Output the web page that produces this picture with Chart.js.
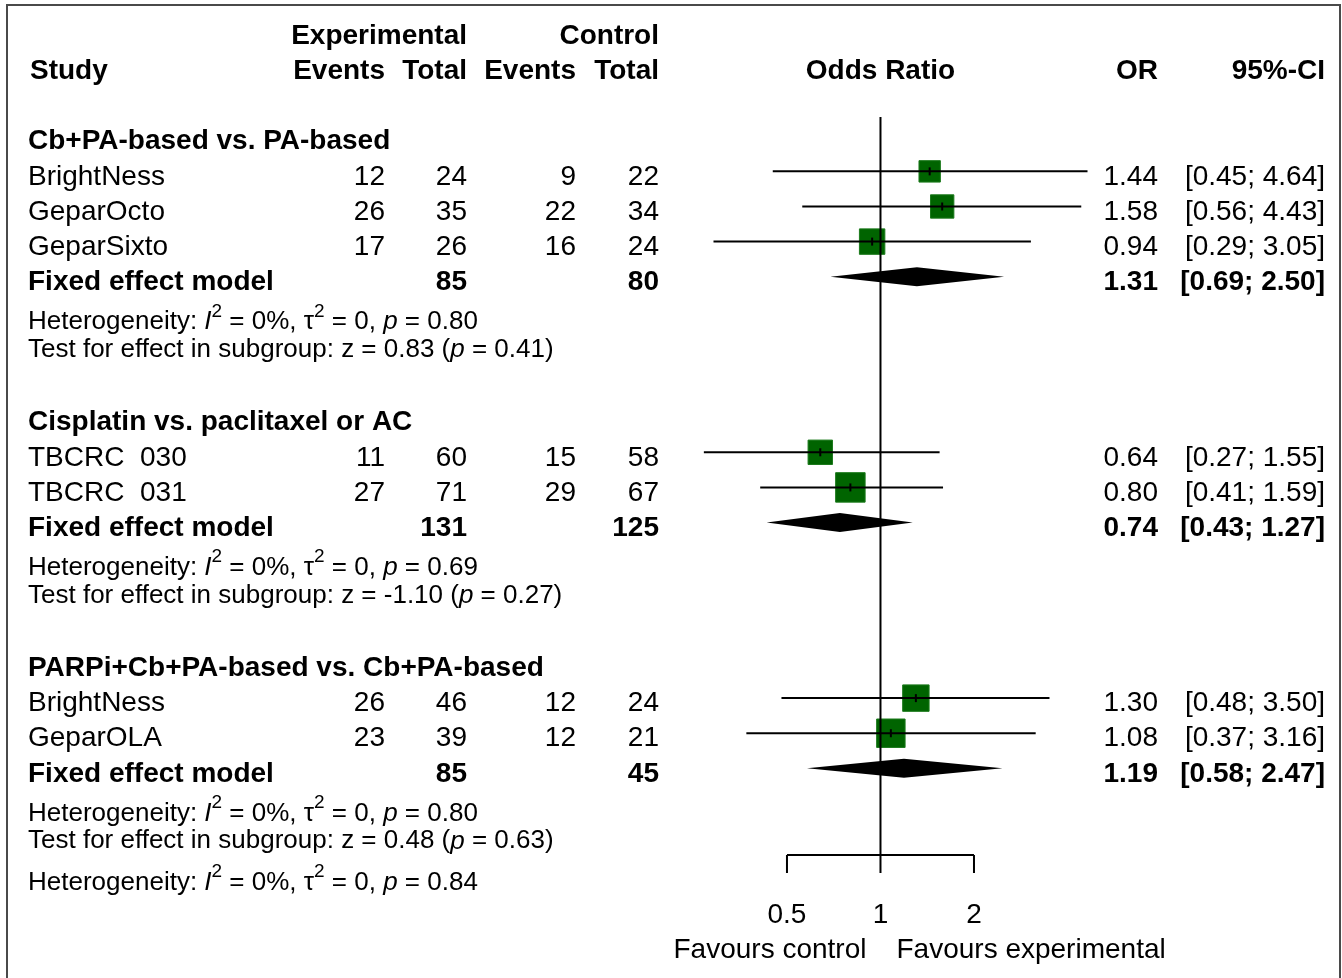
<!DOCTYPE html>
<html>
<head>
<meta charset="utf-8">
<style>
  html, body { margin: 0; padding: 0; background: #fff; }
  canvas { display: block; }
</style>
</head>
<body>
<canvas id="forest" width="1342" height="978"></canvas>
<script src="https://cdn.jsdelivr.net/npm/chart.js@4.4.1/dist/chart.umd.min.js"></script>
<script>
// study level data
const studies = ["BrightNess", "GeparOcto", "GeparSixto", "TBCRC  030", "TBCRC  031", "BrightNess", "GeparOLA"];
const studyGroup = [0, 0, 0, 1, 1, 2, 2];
const expEvents = [12, 26, 17, 11, 27, 26, 23];
const expTotal = [24, 35, 26, 60, 71, 46, 39];
const ctrlEvents = [9, 22, 16, 15, 29, 12, 12];
const ctrlTotal = [22, 34, 24, 58, 67, 24, 21];
const oddsRatio = [1.44, 1.58, 0.94, 0.64, 0.80, 1.30, 1.08];
const ciLower = [0.45, 0.56, 0.29, 0.27, 0.41, 0.48, 0.37];
const ciUpper = [4.64, 4.43, 3.05, 1.55, 1.59, 3.50, 3.16];
const weights = [9.9, 11.8, 14.0, 12.9, 18.8, 15.1, 17.5]; // % weight, square area

// subgroup data
const groupNames = ["Cb+PA-based vs. PA-based", "Cisplatin vs. paclitaxel or AC", "PARPi+Cb+PA-based vs. Cb+PA-based"];
const groupExpTotal = [85, 131, 85];
const groupCtrlTotal = [80, 125, 45];
const groupOR = [1.31, 0.74, 1.19];
const groupLower = [0.69, 0.43, 0.58];
const groupUpper = [2.50, 1.27, 2.47];
const groupHetP = ["0.80", "0.69", "0.80"];
const groupZ = ["0.83", "-1.10", "0.48"];
const groupZP = ["0.41", "0.27", "0.63"];
const overallHetP = "0.84";

// x axis ticks
const tickValues = [0.5, 1, 2];
const tickLabels = ["0.5", "1", "2"];

// row layout (in row units, top to bottom)
const studyRows = [3, 4, 5, 11, 12, 18, 19];
const groupRows = [2, 10, 17];
const fixedRows = [6, 13, 20];
const hetRows = [7.14, 14.14, 21.14];
const testRows = [7.92, 14.92, 21.92];
const overallHetRow = 23.1;
const axisRow = 22.47, tickEndRow = 22.98, refTopRow = 1.45;

const FONT = '"Liberation Sans", Arial, sans-serif';
const MAIN = 28;
const SMALL = 26;
const TEXT_DY = 5.5; // text sits a little lower than the marks
const GREEN = "#006400";

const col = { study: 28, expEv: 385, expTot: 467, ctlEv: 576, ctlTot: 659, or: 1158, ci: 1325 };

const fmt = v => v.toFixed(2);

function text(ctx, s, x, y, align, bold, size) {
  ctx.font = (bold ? "bold " : "") + (size || MAIN) + "px " + FONT;
  ctx.textAlign = align;
  ctx.fillText(s, x, y);
}

function runs(ctx, parts, x, y, size) {
  ctx.textAlign = "left";
  parts.forEach(p => {
    const s = p.sup ? Math.round(size * 0.72) : size;
    ctx.font = (p.it ? "italic " : "") + s + "px " + FONT;
    ctx.fillText(p.t, x, p.sup ? y - size * 0.42 : y);
    x += ctx.measureText(p.t).width;
  });
}

function hetParts(p) {
  return [
    { t: "Heterogeneity: " }, { t: "I", it: true }, { t: "2", sup: true },
    { t: " = 0%, τ" }, { t: "2", sup: true }, { t: " = 0, " },
    { t: "p", it: true }, { t: " = " + p }
  ];
}

const forestPlugin = {
  id: "forest",
  beforeDraw(chart) {
    const ctx = chart.ctx;
    ctx.save();
    ctx.fillStyle = "#fff";
    ctx.fillRect(0, 0, chart.width, chart.height);
    ctx.strokeStyle = "#4a4a4a";
    ctx.lineWidth = 2;
    ctx.beginPath();
    ctx.moveTo(7, chart.height);
    ctx.lineTo(7, 5);
    ctx.lineTo(1340, 5);
    ctx.lineTo(1340, chart.height);
    ctx.stroke();
    ctx.restore();
  },
  afterDatasetsDraw(chart) {
    const ctx = chart.ctx;
    const xs = chart.scales.x, ys = chart.scales.y;
    ctx.save();
    // diamonds for fixed effect models
    ctx.fillStyle = "#000";
    groupOR.forEach((v, i) => {
      const yc = ys.getPixelForValue(fixedRows[i]);
      const h = ys.getPixelForValue(fixedRows[i] + 0.27) - yc;
      ctx.beginPath();
      ctx.moveTo(xs.getPixelForValue(groupLower[i]), yc);
      ctx.lineTo(xs.getPixelForValue(v), yc - h);
      ctx.lineTo(xs.getPixelForValue(groupUpper[i]), yc);
      ctx.lineTo(xs.getPixelForValue(v), yc + h);
      ctx.closePath();
      ctx.fill();
    });
    // axis with ticks
    const ya = ys.getPixelForValue(axisRow);
    const yt = ys.getPixelForValue(tickEndRow);
    ctx.strokeStyle = "#000";
    ctx.lineWidth = 2;
    ctx.beginPath();
    ctx.moveTo(xs.getPixelForValue(tickValues[0]), ya);
    ctx.lineTo(xs.getPixelForValue(tickValues[tickValues.length - 1]), ya);
    tickValues.forEach(v => {
      ctx.moveTo(xs.getPixelForValue(v), ya);
      ctx.lineTo(xs.getPixelForValue(v), yt);
    });
    ctx.stroke();
    ctx.restore();
  },
  afterDraw(chart) {
    const ctx = chart.ctx;
    const xs = chart.scales.x, ys = chart.scales.y;
    const y = r => ys.getPixelForValue(r) + TEXT_DY;
    ctx.save();
    ctx.fillStyle = "#000";
    ctx.textBaseline = "middle";

    // header
    text(ctx, "Experimental", col.expTot, y(-1), "right", true);
    text(ctx, "Control", col.ctlTot, y(-1), "right", true);
    text(ctx, "Study", col.study + 2, y(0), "left", true);
    text(ctx, "Events", col.expEv, y(0), "right", true);
    text(ctx, "Total", col.expTot, y(0), "right", true);
    text(ctx, "Events", col.ctlEv, y(0), "right", true);
    text(ctx, "Total", col.ctlTot, y(0), "right", true);
    text(ctx, "Odds Ratio", xs.getPixelForValue(1), y(0), "center", true);
    text(ctx, "OR", col.or, y(0), "right", true);
    text(ctx, "95%-CI", col.ci, y(0), "right", true);

    // studies
    studies.forEach((s, i) => {
      const r = y(studyRows[i]);
      text(ctx, s, col.study, r, "left");
      text(ctx, String(expEvents[i]), col.expEv, r, "right");
      text(ctx, String(expTotal[i]), col.expTot, r, "right");
      text(ctx, String(ctrlEvents[i]), col.ctlEv, r, "right");
      text(ctx, String(ctrlTotal[i]), col.ctlTot, r, "right");
      text(ctx, fmt(oddsRatio[i]), col.or, r, "right");
      text(ctx, "[" + fmt(ciLower[i]) + "; " + fmt(ciUpper[i]) + "]", col.ci, r, "right");
    });

    // subgroups
    groupNames.forEach((g, i) => {
      text(ctx, g, col.study, y(groupRows[i]), "left", true);
      const r = y(fixedRows[i]);
      text(ctx, "Fixed effect model", col.study, r, "left", true);
      text(ctx, String(groupExpTotal[i]), col.expTot, r, "right", true);
      text(ctx, String(groupCtrlTotal[i]), col.ctlTot, r, "right", true);
      text(ctx, fmt(groupOR[i]), col.or, r, "right", true);
      text(ctx, "[" + fmt(groupLower[i]) + "; " + fmt(groupUpper[i]) + "]", col.ci, r, "right", true);
      runs(ctx, hetParts(groupHetP[i]), col.study, y(hetRows[i]), SMALL);
      runs(ctx, [
        { t: "Test for effect in subgroup: z = " + groupZ[i] + " (" },
        { t: "p", it: true }, { t: " = " + groupZP[i] + ")" }
      ], col.study, y(testRows[i]), SMALL);
    });
    runs(ctx, hetParts(overallHetP), col.study, y(overallHetRow), SMALL);

    // tick labels and direction labels
    tickValues.forEach((v, i) => text(ctx, tickLabels[i], xs.getPixelForValue(v), y(24.02), "center"));
    const x1 = xs.getPixelForValue(1);
    text(ctx, "Favours control", x1 - 14, y(25.02), "right");
    text(ctx, "Favours experimental", x1 + 16, y(25.02), "left");
    ctx.restore();
  }
};

// squares
const squareData = oddsRatio.map((v, i) => ({ x: v, y: studyRows[i] }));
const squareRadius = weights.map(w => 6.8 * Math.sqrt(w) / Math.SQRT2);

const ciDatasets = oddsRatio.map((v, i) => ({
  data: [{ x: ciLower[i], y: studyRows[i] }, { x: ciUpper[i], y: studyRows[i] }],
  showLine: true,
  borderColor: "#000",
  borderWidth: 2,
  pointRadius: 0,
  order: 2
}));

new Chart(document.getElementById("forest"), {
  type: "scatter",
  data: {
    datasets: [
      {
        data: squareData,
        pointStyle: "line",
        rotation: 90,
        pointRadius: 4,
        borderColor: "#000",
        borderWidth: 2,
        order: 0
      },
      {
        data: [{ x: 1, y: refTopRow }, { x: 1, y: axisRow }],
        showLine: true,
        borderColor: "#000",
        borderWidth: 2,
        pointRadius: 0,
        order: 1
      },
      ...ciDatasets,
      {
        data: squareData,
        pointStyle: "rect",
        pointRadius: squareRadius,
        backgroundColor: GREEN,
        borderColor: "#1c7a1c",
        borderWidth: 1,
        order: 3
      }
    ]
  },
  options: {
    responsive: false,
    animation: false,
    events: [],
    layout: { autoPadding: false, padding: { left: 700, right: 242, top: 0, bottom: 0 } },
    plugins: { legend: { display: false }, tooltip: { enabled: false } },
    scales: {
      x: { type: "logarithmic", min: 0.2624, max: 5.09, display: false },
      y: { type: "linear", reverse: true, min: -1.88, max: 25.97, display: false }
    }
  },
  plugins: [forestPlugin]
});
</script>
</body>
</html>
